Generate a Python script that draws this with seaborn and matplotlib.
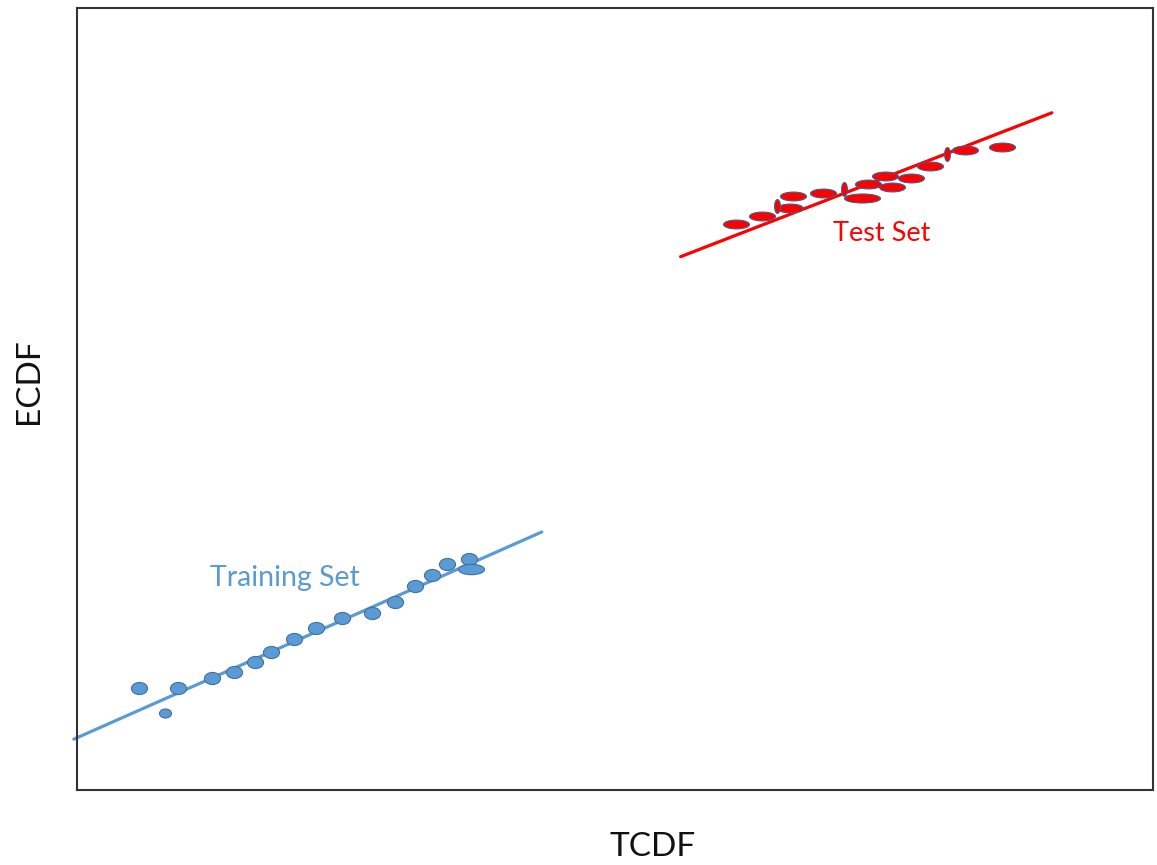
import numpy as np
import pandas as pd
import matplotlib
matplotlib.use("Agg")
import matplotlib.pyplot as plt
from matplotlib.path import Path
from matplotlib.transforms import Affine2D
import seaborn as sns

# ---- data (TCDF vs ECDF, unit scale) ----
train_x = [0.058, 0.094, 0.125, 0.146, 0.165, 0.180, 0.202,
           0.222, 0.246, 0.274, 0.296, 0.314, 0.330, 0.344, 0.364]
train_y = [0.130, 0.130, 0.143, 0.151, 0.164, 0.176, 0.193,
           0.207, 0.220, 0.226, 0.240, 0.261, 0.275, 0.289, 0.295]
train_small_x = [0.082]
train_small_y = [0.098]
train_wide_x = [0.366]
train_wide_y = [0.283]
train_line_x = [-0.003, 0.432]
train_line_y = [0.065, 0.330]

test_x = [0.612, 0.637, 0.663, 0.665, 0.693, 0.735, 0.751, 0.757, 0.775,
          0.793, 0.825, 0.860]
test_y = [0.724, 0.734, 0.744, 0.760, 0.763, 0.775, 0.785, 0.771, 0.783,
          0.798, 0.818, 0.822]
test_wide_x = [0.730]
test_wide_y = [0.757]
test_vert_x = [0.651, 0.713, 0.809]
test_vert_y = [0.747, 0.769, 0.813]
test_line_x = [0.561, 0.906]
test_line_y = [0.682, 0.866]

sns.set_style("white")
plt.rcParams["font.family"] = ["Lato", "DejaVu Sans"]

W, H = 1157, 865
fig = plt.figure(figsize=(W / 100, H / 100), dpi=100)
ax = fig.add_axes([77 / W, (865 - 790) / H, 1076 / W, 782 / H])

def ellipse(a, b):
    return Affine2D().scale(a, b).transform_path(Path.unit_circle())

blue = "#5B9BD5"
blue_edge = "#41719C"
red = "#FF0000"
red_edge = "#3F5F8F"

# lines
sns.lineplot(x=train_line_x, y=train_line_y, ax=ax, color=blue, lw=2.3,
             clip_on=False, zorder=2)
sns.lineplot(x=test_line_x, y=test_line_y, ax=ax, color=red, lw=2.3, zorder=2)

# training points
sns.scatterplot(x=train_x, y=train_y, ax=ax, marker=ellipse(1.0, 0.75),
                s=135, color=blue, edgecolor=blue_edge, linewidth=0.8, zorder=3)
sns.scatterplot(x=train_small_x, y=train_small_y, ax=ax, marker=ellipse(1.0, 0.75),
                s=75, color=blue, edgecolor=blue_edge, linewidth=0.8, zorder=3)
sns.scatterplot(x=train_wide_x, y=train_wide_y, ax=ax, marker=ellipse(1.0, 0.4),
                s=350, color=blue, edgecolor=blue_edge, linewidth=0.8, zorder=3)

# test points
sns.scatterplot(x=test_x, y=test_y, ax=ax, marker=ellipse(1.0, 0.34),
                s=350, color=red, edgecolor=red_edge, linewidth=0.8, zorder=3)
sns.scatterplot(x=test_wide_x, y=test_wide_y, ax=ax, marker=ellipse(1.0, 0.25),
                s=670, color=red, edgecolor=red_edge, linewidth=0.8, zorder=3)
sns.scatterplot(x=test_vert_x, y=test_vert_y, ax=ax, marker=ellipse(0.42, 1.0),
                s=100, color=red, edgecolor=red_edge, linewidth=0.8, zorder=3)

ax.text(0.193, 0.271, "Training Set", color=blue, fontsize=20.5,
        ha="center", va="center")
ax.text(0.748, 0.712, "Test Set", color=red, fontsize=19.5,
        ha="center", va="center")

ax.set_xlim(0, 1)
ax.set_ylim(0, 1)
ax.set_xticks([])
ax.set_yticks([])
ax.set_xlabel("TCDF", fontsize=24, color="#111111")
ax.set_ylabel("ECDF", fontsize=24, color="#111111")
ax.xaxis.set_label_coords(0.535, -0.073)
ax.yaxis.set_label_coords(-0.045, 0.523)
ax.xaxis.label.set_va("center")
ax.yaxis.label.set_va("center")
for sp in ax.spines.values():
    sp.set_visible(True)
    sp.set_color("#333333")
    sp.set_linewidth(1.5)

fig.savefig("out.png", dpi=100, facecolor="white")
